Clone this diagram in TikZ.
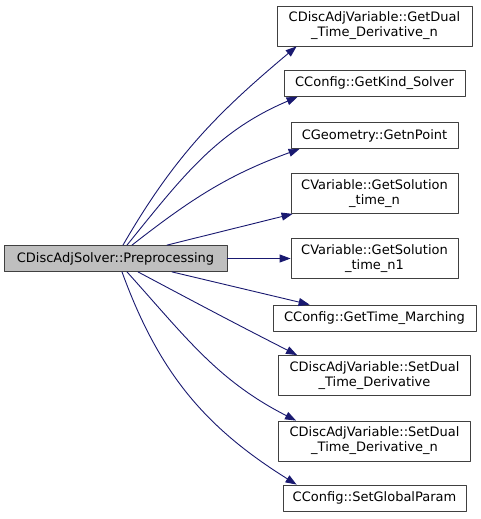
\documentclass[tikz,border=0pt]{standalone}
\usepackage{fontspec}
\setmainfont{DejaVu Sans}
\usetikzlibrary{arrows.meta}
\definecolor{edgeblue}{RGB}{25,25,112}
\definecolor{rootgray}{RGB}{191,191,191}
\begin{document}
\begin{tikzpicture}[x=1pt,y=1pt,line cap=round,line join=round,
  fn/.style={draw=black!75,line width=0.8pt,fill=white,inner sep=0pt,align=center,
    font=\fontsize{13}{15}\selectfont,minimum height=26pt},
  fntwo/.style={fn,minimum height=40pt},
  call/.style={draw=edgeblue,line width=0.9pt,-{Triangle[length=11pt,width=8pt]}}]
  \useasboundingbox (0,0) rectangle (481,-519);
  % caller
  \node[fn,fill=rootgray,minimum width=223pt] (src) at (115.5,-258.5) {CDiscAdjSolver::Preprocessing};
  % callees
  \node[fntwo,minimum width=195pt] (dualn) at (374.5,-26) {CDiscAdjVariable::GetDual\\\_Time\_Derivative\_n};
  \node[fn,minimum width=181pt] (kind) at (374.5,-83.5) {CConfig::GetKind\_Solver};
  \node[fn,minimum width=167pt] (npoint) at (374.5,-135.5) {CGeometry::GetnPoint};
  \node[fntwo,minimum width=167pt] (soln) at (374.5,-193.5) {CVariable::GetSolution\\\_time\_n};
  \node[fntwo,minimum width=167pt] (solnone) at (374.5,-258.5) {CVariable::GetSolution\\\_time\_n1};
  \node[fn,minimum width=203pt] (march) at (374.5,-318) {CConfig::GetTime\_Marching};
  \node[fntwo,minimum width=192pt] (setdual) at (374.5,-375.5) {CDiscAdjVariable::SetDual\\\_Time\_Derivative};
  \node[fntwo,minimum width=192pt] (setdualn) at (374.5,-441) {CDiscAdjVariable::SetDual\\\_Time\_Derivative\_n};
  \node[fn,minimum width=183pt] (glob) at (374.5,-498) {CConfig::SetGlobalParam};
  % calls
  \draw[call] ([xshift=7.5pt]src.north) to[out=60,in=220] ([xshift=20pt]dualn.south west);
  \draw[call] ([xshift=11.5pt]src.north) to[out=51,in=203] ([xshift=14pt]kind.south west);
  \draw[call] ([xshift=16.5pt]src.north) to[out=38,in=200] ([xshift=9pt]npoint.south west);
  \draw[call] ([xshift=51.5pt]src.north) -- ([xshift=2pt]soln.south west);
  \draw[call] (src.east) -- (solnone.west);
  \draw[call] ([xshift=56.5pt]src.south) -- ([xshift=37pt]march.north west);
  \draw[call] ([xshift=22.5pt]src.south) to[out=-28,in=153] ([xshift=19pt]setdual.north west);
  \draw[call] ([xshift=11.5pt]src.south) to[out=-48,in=153] ([xshift=18pt]setdualn.north west);
  \draw[call] ([xshift=6.5pt]src.south) to[out=-70,in=148] ([xshift=14pt]glob.north west);
\end{tikzpicture}
\end{document}
